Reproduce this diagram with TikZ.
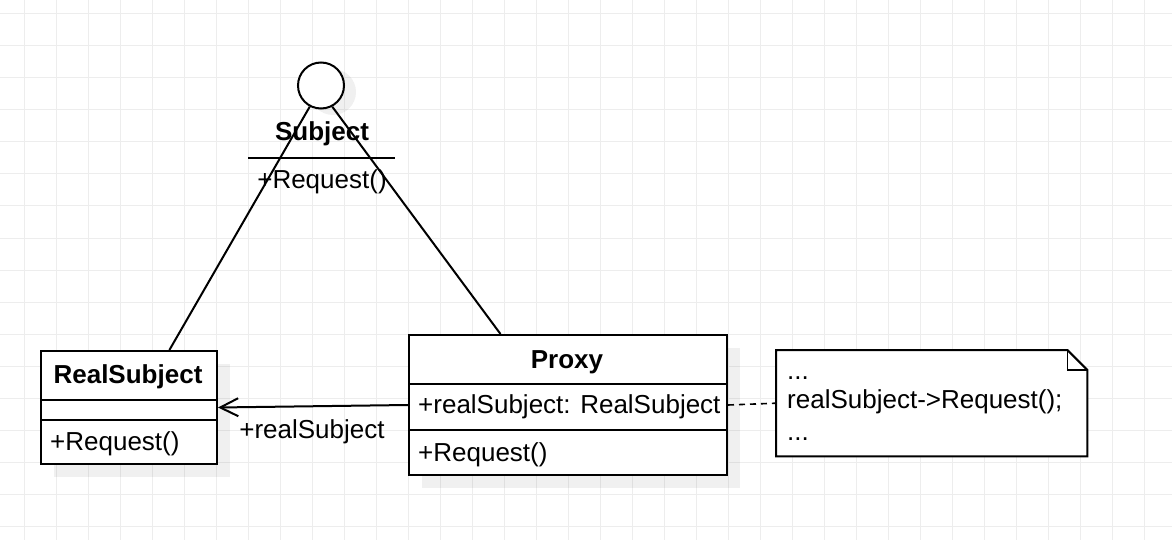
\documentclass[tikz,border=0pt]{standalone}
\usepackage{fontspec}
\setmainfont{Liberation Sans}
\usetikzlibrary{arrows.meta,calc}
\begin{document}
\begin{tikzpicture}[x=1pt,y=-1pt,
  gridline/.style={draw=black!7, line width=1pt},
  shadowfill/.style={fill=black, fill opacity=0.06},
  umlbox/.style={draw, line width=2pt, fill=white, anchor=north west, inner sep=0},
  lbl/.style={inner sep=0, font=\fontsize{26}{30}\selectfont},
  blbl/.style={inner sep=0, font=\fontsize{26}{30}\selectfont\bfseries},
  conn/.style={line width=2pt},
]
\useasboundingbox (0,0) rectangle (1172,540);
\fill[white] (0,0) rectangle (1172,540);
\foreach \x in {24,56,...,1168} \draw[gridline] (\x,0) -- (\x,540);
\foreach \y in {14,46,...,540} \draw[gridline] (0,\y) -- (1172,\y);

% shadows
\fill[shadowfill] (333,92) circle (23);
\fill[shadowfill] (54,364) rectangle (230,477);
\fill[shadowfill] (422,348) rectangle (740,488);

% Subject (interface)
\node[draw, line width=2pt, fill=white, circle, minimum size=46, inner sep=0] (subj) at (321,85.5) {};
\node[blbl, anchor=base] (subjname) at (322,141) {Subject};
\coordinate (sepL) at (248,158);
\coordinate (sepR) at (395,158);
\draw[conn] (sepL) -- (sepR);
\node[lbl, anchor=base] (subjop) at (322,189) {+Request()};

% RealSubject
\node[umlbox, minimum width=176, minimum height=113] (rs) at (40,350) {};
\draw[conn] ($(rs.north west)+(0,50)$) -- ($(rs.north east)+(0,50)$);
\draw[conn] ($(rs.north west)+(0,70)$) -- ($(rs.north east)+(0,70)$);
\node[blbl, anchor=base] (rsname) at (128,383) {RealSubject};
\node[lbl, anchor=base west] (rsop) at (50,450) {+Request()};

% Proxy
\node[umlbox, minimum width=318, minimum height=140] (px) at (408,334) {};
\draw[conn] ($(px.north west)+(0,50)$) -- ($(px.north east)+(0,50)$);
\draw[conn] ($(px.north west)+(0,96)$) -- ($(px.north east)+(0,96)$);
\node[blbl, anchor=base] (pxname) at (567,368) {Proxy};
\node[lbl, anchor=base west] (pxattr) at (418,413) {+realSubject: RealSubject};
\node[lbl, anchor=base west] (pxop) at (418,461) {+Request()};

% Note
\node[inner sep=0, minimum width=311, minimum height=106, anchor=north west] (note) at (776,350) {};
\draw[conn, fill=white] (note.north west) -- ($(note.north east)+(-20,0)$) -- ($(note.north east)+(0,20)$) -- (note.south east) -- (note.south west) -- cycle;
\draw[line width=1.6pt] ($(note.north east)+(-20,0)$) -- ($(note.north east)+(-20,20)$) -- ($(note.north east)+(0,20)$);
\node[lbl, anchor=base west] (n1) at (787,379) {...};
\node[lbl, anchor=base west] (n2) at (787,408) {realSubject->Request();};
\node[lbl, anchor=base west] (n3) at (787,440) {...};

% connectors
\draw[conn] (subj.242) -- ($(rs.north west)!0.727!(rs.north east)$);
\draw[conn] (subj.298) -- ($(px.north west)!0.289!(px.north east)$);
\draw[conn, -{Straight Barb[length=18pt, width=18pt]}] (px.west) -- (rs.east);
\node[lbl, anchor=base] (al) at (312,438) {+realSubject};
\draw[line width=1.6pt, dash pattern=on 6pt off 5pt] (px.east) -- (note.west);
\end{tikzpicture}
\end{document}
